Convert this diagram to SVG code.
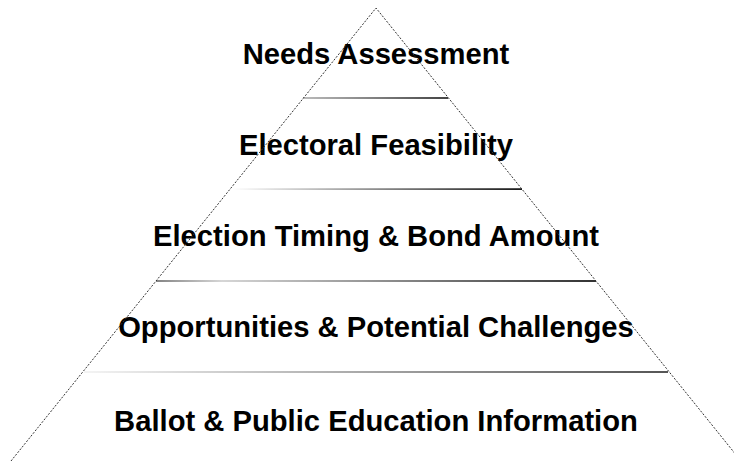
<svg xmlns="http://www.w3.org/2000/svg" width="734" height="461" viewBox="0 0 734 461">
<style>
.t{font-family:"Liberation Sans",Arial,sans-serif;font-weight:bold;font-size:29.2px;fill:#000;text-anchor:middle}
.edge{fill:none;stroke:#333;stroke-width:1;stroke-dasharray:2 1.5}
</style>
<defs>
<linearGradient id="g1" x1="0" y1="0" x2="1" y2="0"><stop offset="0" stop-color="#bbb"/><stop offset="1" stop-color="#444"/></linearGradient>
<linearGradient id="g2" x1="0" y1="0" x2="1" y2="0"><stop offset="0" stop-color="#fff"/><stop offset="1" stop-color="#000"/></linearGradient>
<linearGradient id="g3" x1="0" y1="0" x2="1" y2="0"><stop offset="0" stop-color="#666"/><stop offset="0.15" stop-color="#ccc"/><stop offset="1" stop-color="#000"/></linearGradient>
<linearGradient id="g4" x1="0" y1="0" x2="1" y2="0"><stop offset="0" stop-color="#f4f4f4"/><stop offset="1" stop-color="#555"/></linearGradient>
</defs>
<g id="dividers">
<rect x="303" y="97" width="145" height="2" fill="url(#g1)"/>
<rect x="232" y="188.3" width="290" height="1.6" fill="url(#g2)"/>
<rect x="156" y="280.2" width="440" height="1.6" fill="url(#g3)"/>
<rect x="84" y="371" width="584" height="2" fill="url(#g4)"/>
</g>
<g id="tier1"><text class="t" x="376" y="64">Needs Assessment</text></g>
<g id="tier2"><text class="t" x="376" y="155">Electoral Feasibility</text></g>
<g id="tier3"><text class="t" x="376" y="246">Election Timing &amp; Bond Amount</text></g>
<g id="tier4"><text class="t" x="376" y="337">Opportunities &amp; Potential Challenges</text></g>
<g id="tier5"><text class="t" x="376" y="431">Ballot &amp; Public Education Information</text></g>
<g id="outline"><polyline class="edge" points="11,461 376,8 741,461"/></g>
</svg>
